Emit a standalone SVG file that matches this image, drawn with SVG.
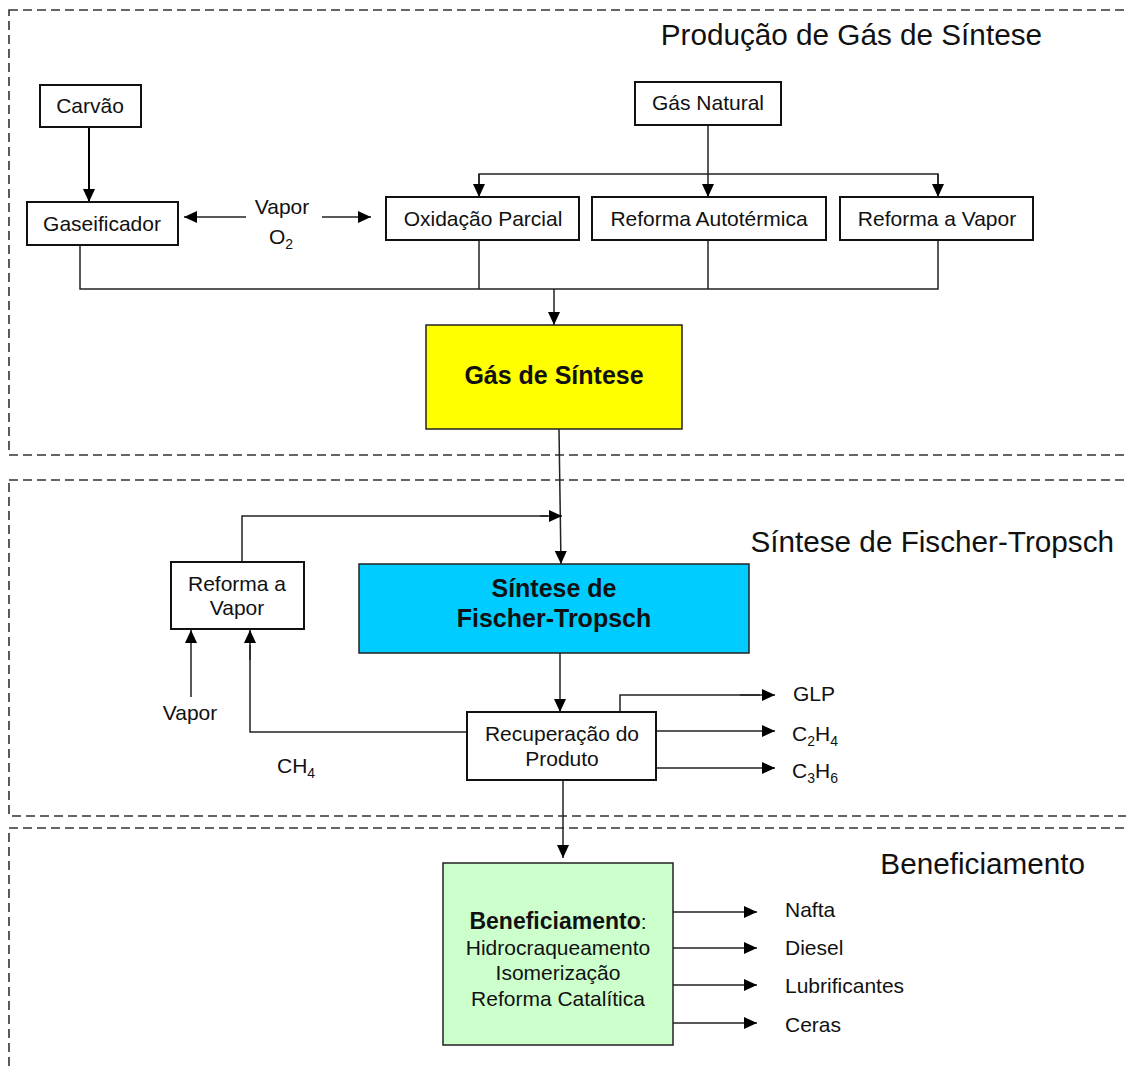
<svg xmlns="http://www.w3.org/2000/svg" width="1126" height="1066" viewBox="0 0 1126 1066">
<defs>
<marker id="ah" markerUnits="userSpaceOnUse" markerWidth="14" markerHeight="12" refX="13" refY="6" orient="auto">
<path d="M0,0 L13,6 L0,12 z" fill="#000"/>
</marker>
<style>
text{font-family:"Liberation Sans",Arial,sans-serif;fill:#111}
.t{font-size:21px}
.c{text-anchor:middle}
.b{font-weight:bold}
.title{font-size:29.7px;text-anchor:end}
.box{fill:#fff;stroke:#111;stroke-width:2}
.sec{fill:none;stroke:#333;stroke-width:1.6;stroke-dasharray:9,5}
.ln{fill:none;stroke:#222;stroke-width:1.5}
.ar{fill:none;stroke:#222;stroke-width:1.5;marker-end:url(#ah)}
</style>
</defs>
<rect width="1126" height="1066" fill="#fff"/>
<g id="sections">
<rect class="sec" x="9" y="10" width="1140" height="445"/>
<rect class="sec" x="9" y="480" width="1140" height="336"/>
<rect class="sec" x="9" y="828" width="1140" height="260"/>
<text class="title" x="1042" y="45">Produção de Gás de Síntese</text>
<text class="title" x="1114" y="552">Síntese de Fischer-Tropsch</text>
<text class="title" x="1085" y="874">Beneficiamento</text>
</g>
<g id="connectors">
<line x1="89" y1="128" x2="89" y2="202" style="stroke:#000;stroke-width:2;marker-end:url(#ah)"/>
<line class="ar" x1="246" y1="217" x2="184" y2="217"/>
<line class="ar" x1="322" y1="217" x2="371" y2="217"/>
<line class="ar" x1="708" y1="125" x2="708" y2="197"/>
<polyline class="ln" points="479,186 479,174 938,174 938,186"/>
<line class="ar" x1="479" y1="174" x2="479" y2="197"/>
<line class="ar" x1="938" y1="174" x2="938" y2="197"/>
<polyline class="ln" points="80,246 80,289 938,289 938,240"/>
<line class="ln" x1="479" y1="240" x2="479" y2="289"/>
<line class="ln" x1="708" y1="240" x2="708" y2="289"/>
<line class="ar" x1="554" y1="289" x2="554" y2="325"/>
<line class="ar" x1="559" y1="429" x2="561" y2="564"/>
<polyline class="ln" points="242,562 242,516 548,516"/>
<line class="ar" x1="540" y1="516" x2="562" y2="516"/>
<line class="ar" x1="191" y1="697" x2="191" y2="630"/>
<polyline class="ln" points="468,732 250,732 250,645"/>
<line class="ar" x1="250" y1="660" x2="250" y2="630"/>
<line class="ar" x1="560" y1="653" x2="560" y2="712"/>
<polyline class="ln" points="620,712 620,695 760,695"/>
<line class="ar" x1="740" y1="695" x2="775" y2="695"/>
<line class="ar" x1="656" y1="731" x2="775" y2="731"/>
<line class="ar" x1="656" y1="768" x2="775" y2="768"/>
<line class="ar" x1="563" y1="780" x2="563" y2="858"/>
<line class="ar" x1="673" y1="912" x2="757" y2="912"/>
<line class="ar" x1="673" y1="948" x2="757" y2="948"/>
<line class="ar" x1="673" y1="985" x2="757" y2="985"/>
<line class="ar" x1="673" y1="1023" x2="757" y2="1023"/>
</g>
<g id="carvao">
<rect class="box" x="40" y="85" width="101" height="42"/>
<text class="t c" x="90" y="113">Carvão</text>
</g>
<g id="gaseificador">
<rect class="box" x="27" y="202" width="151" height="43"/>
<text class="t c" x="102" y="231">Gaseificador</text>
</g>
<g id="vapor-o2">
<text class="t c" x="282" y="214">Vapor</text>
<text class="t" x="269" y="244">O<tspan font-size="14" dy="5">2</tspan></text>
</g>
<g id="gas-natural">
<rect class="box" x="635" y="82" width="146" height="43"/>
<text class="t c" x="708" y="110">Gás Natural</text>
</g>
<g id="oxidacao">
<rect class="box" x="386" y="197" width="193" height="43"/>
<text class="t c" x="483" y="226">Oxidação Parcial</text>
</g>
<g id="autotermica">
<rect class="box" x="592" y="197" width="234" height="43"/>
<text class="t c" x="709" y="226">Reforma Autotérmica</text>
</g>
<g id="reforma-vapor">
<rect class="box" x="840" y="197" width="193" height="43"/>
<text class="t c" x="937" y="226">Reforma a Vapor</text>
</g>
<g id="gas-sintese">
<rect x="426" y="325" width="256" height="104" fill="#ffff00" stroke="#222" stroke-width="1.5"/>
<text class="c b" x="554" y="384" font-size="25">Gás de Síntese</text>
</g>
<g id="reforma-vapor-2">
<rect class="box" x="171" y="562" width="133" height="67"/>
<text class="t c" x="237" y="591">Reforma a</text>
<text class="t c" x="237" y="615">Vapor</text>
</g>
<g id="fischer-tropsch">
<rect x="359" y="564" width="390" height="89" fill="#00ccff" stroke="#222" stroke-width="1.5"/>
<text class="c b" x="554" y="597" font-size="25">Síntese de</text>
<text class="c b" x="554" y="627" font-size="25">Fischer-Tropsch</text>
</g>
<g id="vapor-label">
<text class="t c" x="190" y="720">Vapor</text>
</g>
<g id="ch4-label">
<text class="t" x="277" y="773">CH<tspan font-size="14" dy="5">4</tspan></text>
</g>
<g id="recuperacao">
<rect class="box" x="467" y="712" width="189" height="68"/>
<text class="t c" x="562" y="741">Recuperação do</text>
<text class="t c" x="562" y="766">Produto</text>
</g>
<g id="glp"><text class="t" x="793" y="701">GLP</text></g>
<g id="c2h4"><text class="t" x="792" y="741">C<tspan font-size="14" dy="5">2</tspan><tspan dy="-5">H</tspan><tspan font-size="14" dy="5">4</tspan></text></g>
<g id="c3h6"><text class="t" x="792" y="778">C<tspan font-size="14" dy="5">3</tspan><tspan dy="-5">H</tspan><tspan font-size="14" dy="5">6</tspan></text></g>
<g id="beneficiamento">
<rect x="443" y="863" width="230" height="182" fill="#ccffcc" stroke="#222" stroke-width="1.5"/>
<text class="t c" x="558" y="929"><tspan font-weight="bold" font-size="23">Beneficiamento</tspan>:</text>
<text class="t c" x="558" y="955">Hidrocraqueamento</text>
<text class="t c" x="558" y="980">Isomerização</text>
<text class="t c" x="558" y="1006">Reforma Catalítica</text>
</g>
<g id="nafta"><text class="t" x="785" y="917">Nafta</text></g>
<g id="diesel"><text class="t" x="785" y="955">Diesel</text></g>
<g id="lubrificantes"><text class="t" x="785" y="993">Lubrificantes</text></g>
<g id="ceras"><text class="t" x="785" y="1032">Ceras</text></g>
</svg>
